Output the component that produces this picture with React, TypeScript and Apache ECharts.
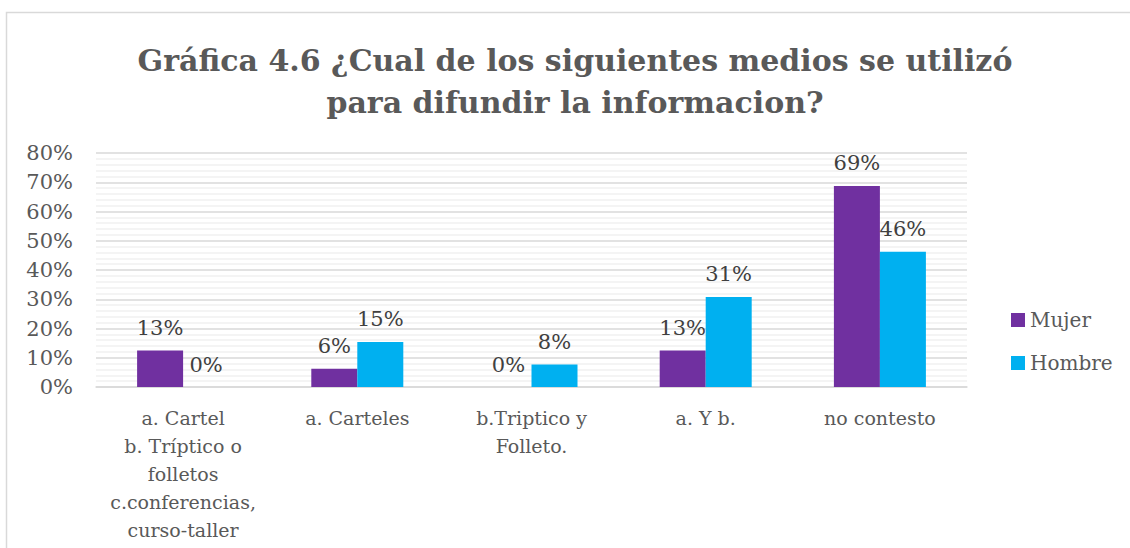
import React, { useEffect, useRef } from "react";
import * as echarts from "echarts";

const titleText = "Gráfica 4.6 ¿Cual de los siguientes medios se utilizó\npara difundir la informacion?";
const categories = [
  "a. Cartel\nb. Tríptico o\nfolletos\nc.conferencias,\ncurso-taller",
  "a. Carteles",
  "b.Triptico y\nFolleto.",
  "a. Y b.",
  "no contesto",
];
const seriesNames = ["Mujer", "Hombre"];
const mujer = [0.125, 0.0625, 0, 0.125, 0.6875];
const hombre = [0, 0.154, 0.077, 0.308, 0.462];

const FONT = "DejaVu Serif";
const GRAY = "#595959";

export default function App() {
  const ref = useRef<HTMLDivElement>(null);
  useEffect(() => {
    if (!ref.current) return;
    const chart = echarts.init(ref.current, null, { renderer: "svg" });
    const labelCfg = {
      show: true,
      position: "top",
      distance: 12,
      fontFamily: FONT,
      fontSize: 21,
      color: "#404040",
      formatter: (p: any) => Math.round(p.value * 100) + "%",
    };
    chart.setOption({
      animation: false,
      backgroundColor: "#ffffff",
      title: {
        text: titleText,
        left: 570,
        top: 34,
        textAlign: "center",
        textStyle: {
          fontFamily: FONT,
          fontWeight: "bold",
          fontSize: 30,
          lineHeight: 42,
          color: GRAY,
        },
      },
      graphic: [
        {
          type: "rect",
          shape: { x: 6.5, y: 12.5, width: 1300, height: 700 },
          style: { fill: "none", stroke: "#d9d9d9", lineWidth: 1.5 },
          silent: true,
        },
      ],
      legend: {
        orient: "vertical",
        left: 1006,
        top: 305,
        itemWidth: 14,
        itemHeight: 14,
        itemGap: 23,
        icon: "rect",
        textStyle: { fontFamily: FONT, fontSize: 20, color: GRAY },
        data: seriesNames,
      },
      grid: { left: 96, right: 163, top: 153, bottom: 161, containLabel: false },
      xAxis: {
        type: "category",
        data: categories,
        axisTick: { show: false },
        axisLine: { show: true, lineStyle: { color: "#d9d9d9", width: 1.5 } },
        axisLabel: {
          interval: 0,
          margin: 17,
          fontFamily: FONT,
          fontSize: 19,
          lineHeight: 28,
          color: GRAY,
          verticalAlign: "top",
        },
      },
      yAxis: {
        type: "value",
        min: 0,
        max: 0.8,
        interval: 0.1,
        axisLine: { show: false },
        axisTick: { show: false },
        axisLabel: {
          fontFamily: FONT,
          fontSize: 21,
          color: GRAY,
          margin: 23,
          formatter: (v: number) => Math.round(v * 100) + "%",
        },
        splitLine: { show: true, lineStyle: { color: "#d9d9d9", width: 1.5 } },
        minorTick: { show: false, splitNumber: 5 },
        minorSplitLine: { show: true, lineStyle: { color: "#f0f0f0", width: 1.5 } },
      },
      series: [
        {
          name: seriesNames[0],
          type: "bar",
          data: mujer,
          barWidth: 46,
          barGap: "0%",
          itemStyle: { color: "#7030a0" },
          label: labelCfg,
        },
        {
          name: seriesNames[1],
          type: "bar",
          data: hombre,
          barWidth: 46,
          barGap: "0%",
          itemStyle: { color: "#00b0f0" },
          label: labelCfg,
        },
      ],
    });
    return () => chart.dispose();
  }, []);
  return (
    <div
      ref={ref}
      style={{ position: "fixed", left: 0, top: 0, width: 1130, height: 548 }}
    />
  );
}
